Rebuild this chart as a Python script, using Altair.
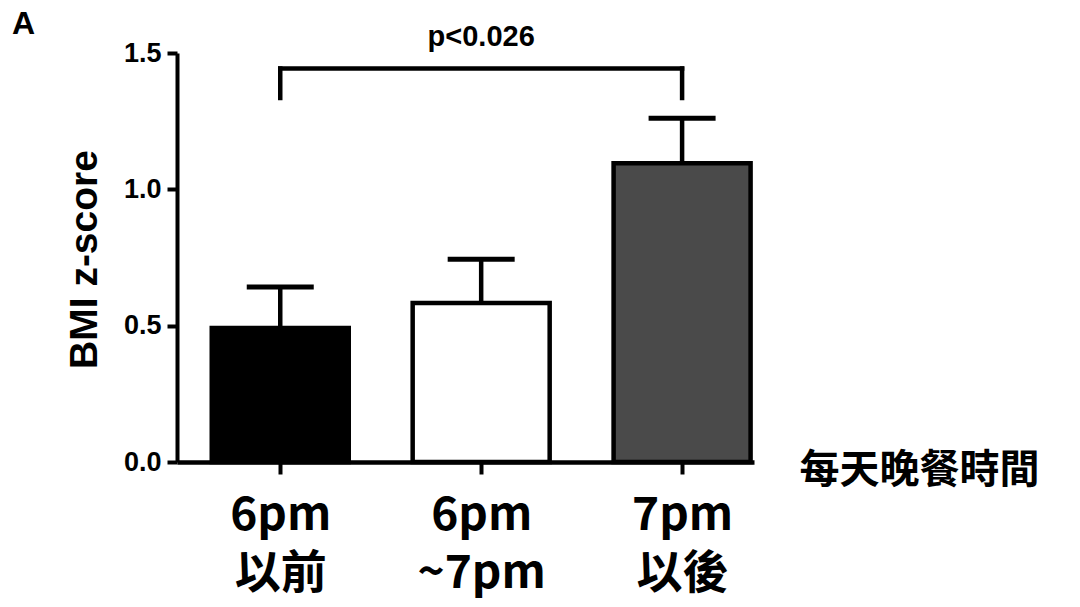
import altair as alt
import pandas as pd

# ---- data ----
line1 = ["6pm", "6pm", "7pm"]
line2 = ["以前", "~7pm", "以後"]
means = [0.491, 0.583, 1.096]
uppers = [0.642, 0.744, 1.261]
fills = ["#000000", "#ffffff", "#4a4a4a"]
bracket_from, bracket_to = 0, 2
bracket_top, bracket_bottom = 1.443, 1.335
p_label = "p<0.026"
panel_label = "A"

idx = list(range(len(means)))
cats = [a + " " + b for a, b in zip(line1, line2)]
df = pd.DataFrame({"idx": idx, "cat": cats, "mean": means, "upper": uppers})

seg = pd.DataFrame({
    "x":  [bracket_from, bracket_from, bracket_to],
    "x2": [bracket_to, bracket_from, bracket_to],
    "y":  [bracket_top, bracket_bottom, bracket_bottom],
    "y2": [bracket_top, bracket_top, bracket_top],
})
ptext = pd.DataFrame({"x": [(bracket_from + bracket_to) / 2], "y": [bracket_top], "t": [p_label]})

label_arr = "[" + ",".join("['%s','%s']" % (a, b) for a, b in zip(line1, line2)) + "]"

xscale = alt.Scale(domain=[-0.489, 2.333], nice=False, zero=False)
yscale = alt.Scale(domain=[0, 1.5], nice=False)

xaxis = alt.Axis(
    values=idx, labelExpr=label_arr + "[datum.value]",
    title="每天晚餐時間", titleFont="Noto Sans CJK TC", titleFontWeight="bold",
    titleFontSize=40, titleColor="black", titleX=622, titleY=8,
    titleAlign="left", titleBaseline="middle",
    labelFont="Noto Sans CJK TC", labelFontWeight="bold", labelFontSize=46,
    labelColor="black", labelLineHeight=58, labelPadding=19,
    labelFlush=False, labelOverlap=False, labelBound=False,
    tickSize=12, tickWidth=4, tickColor="black",
    domainColor="black", domainWidth=4.5, grid=False,
)
yaxis = alt.Axis(
    values=[0, 0.5, 1.0, 1.5], format=".1f",
    title="BMI z-score", titleFont="Liberation Sans", titleFontWeight="bold",
    titleFontSize=39, titleColor="black", titleX=-93, titleY=206,
    titleAlign="center", titleBaseline="middle",
    labelFont="Liberation Sans", labelFontWeight="bold", labelFontSize=27,
    labelColor="black", labelPadding=6,
    tickSize=10, tickWidth=4, tickColor="black",
    domainColor="black", domainWidth=4, grid=False,
)

base = alt.Chart(df)

bars = base.mark_bar(size=137, stroke="black", strokeWidth=4.5).encode(
    x=alt.X("idx:Q", scale=xscale, axis=xaxis),
    y=alt.Y("mean:Q", scale=yscale, axis=yaxis),
    fill=alt.Fill("cat:N", scale=alt.Scale(domain=cats, range=fills), legend=None),
)

err = base.mark_rule(color="black", strokeWidth=4.5).encode(
    x="idx:Q", y="mean:Q", y2="upper:Q"
)
caps = base.mark_tick(orient="horizontal", size=67, thickness=5, color="black", opacity=1).encode(
    x="idx:Q", y="upper:Q"
)

bracket = alt.Chart(seg).mark_rule(color="black", strokeWidth=4.5, strokeCap="square").encode(
    x="x:Q", x2="x2:Q", y="y:Q", y2="y2:Q"
)
ptxt = alt.Chart(ptext).mark_text(
    font="Liberation Sans", fontWeight="bold", fontSize=29, color="black",
    baseline="alphabetic", align="center", dy=-23,
).encode(x="x:Q", y="y:Q", text="t:N")

alabel = alt.Chart(pd.DataFrame({"t": [panel_label]})).mark_text(
    font="Liberation Sans", fontWeight="bold", fontSize=32, color="black",
    baseline="alphabetic", align="left",
).encode(text="t:N", x=alt.value(-165), y=alt.value(-19))

chart = alt.layer(err, caps, bars, bracket, ptxt, alabel).properties(
    width=577, height=409,
    autosize=alt.AutoSizeParams(type="none"),
    padding={"left": 169, "top": 45, "right": 310, "bottom": 137},
    background="white",
).configure_view(stroke=None)

chart.save("out.html", embed_options={"renderer": "svg", "actions": False})
